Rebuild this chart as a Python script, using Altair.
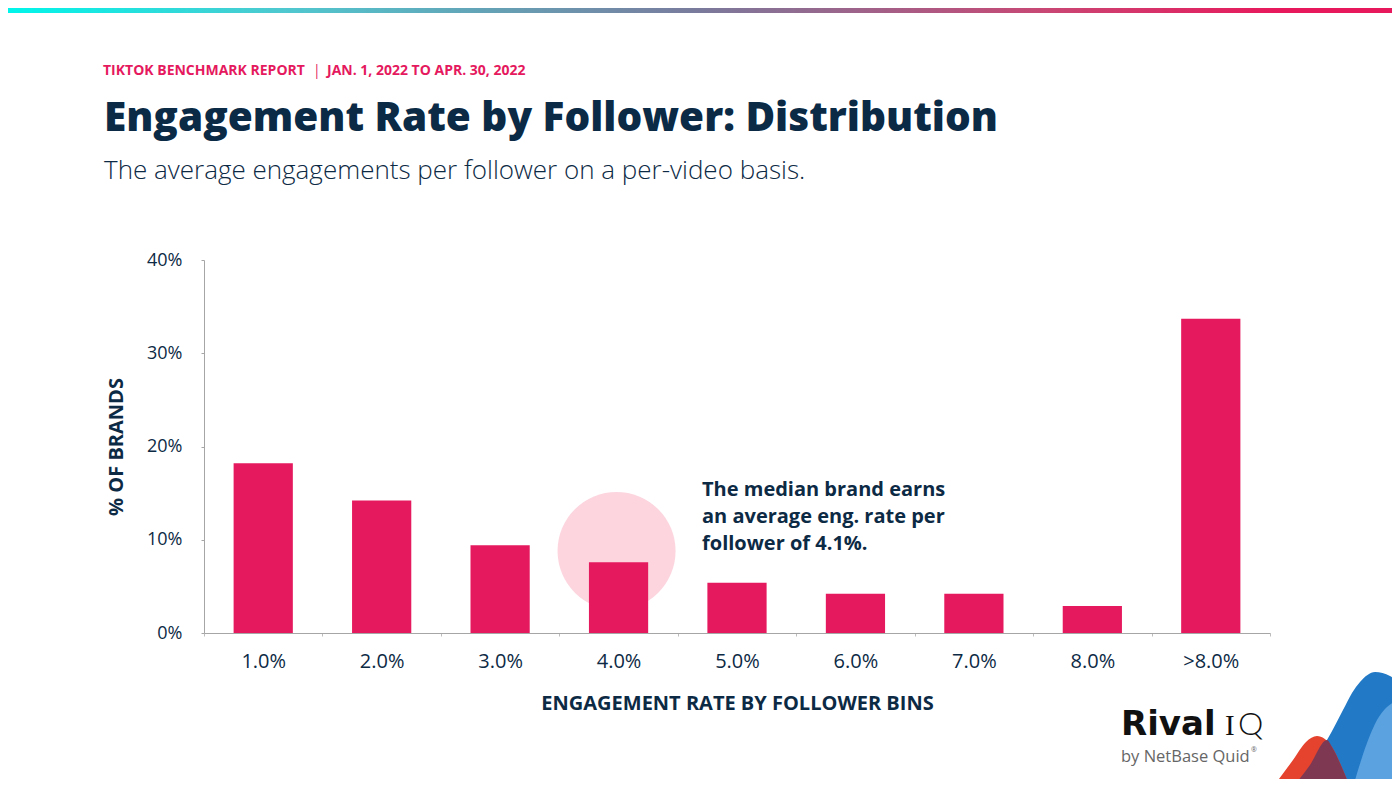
import altair as alt
import pandas as pd

# ---- data ----
bins = ["1.0%", "2.0%", "3.0%", "4.0%", "5.0%", "6.0%", "7.0%", "8.0%", ">8.0%"]
share = [18.2, 14.2, 9.4, 7.6, 5.4, 4.2, 4.2, 2.9, 33.7]

highlight_bin = ["4.0%"]
highlight_val = [8.8]

note_bin = ["5.0%"]
note_val = [16.4]
note_lines = ["The median brand earns", "an average eng. rate per", "follower of 4.1%."]

# logo decoration shapes (page-pixel space of the logo corner)
logo_blue_x = [1293, 1310, 1327, 1343, 1352, 1360, 1375, 1390, 1400]
logo_blue_y = [787, 765, 740, 710, 693, 682, 672, 676, 683]
logo_lblue_x = [1353, 1367, 1377, 1387, 1400]
logo_lblue_y = [787, 743, 720, 707, 700]
logo_red_x = [1273, 1293, 1306, 1317, 1332, 1343, 1350]
logo_red_y = [787, 760, 742, 736, 747, 770, 787]
logo_mar_x = [1293, 1310, 1327, 1332, 1343, 1350]
logo_mar_y = [787, 765, 740, 747, 770, 787]

NAVY = "#0D2A45"
PINK = "#E5195E"
FONT = "Open Sans"

W, H = 1066, 373
PAD_L, PAD_T = 196, 252
ox, oy = 204, 260  # page position of plot origin

bars_df = pd.DataFrame({"bin": bins, "share": share})
hl_df = pd.DataFrame({"bin": highlight_bin, "share": highlight_val})
note_df = pd.DataFrame({"bin": note_bin, "share": note_val})
one = pd.DataFrame({"k": [0]})

xenc = alt.X(
    "bin:N",
    sort=bins,
    scale=alt.Scale(domain=bins, paddingInner=0, paddingOuter=0),
    axis=alt.Axis(
        title="ENGAGEMENT RATE BY FOLLOWER BINS",
        titleFont=FONT, titleFontSize=20, titleFontWeight="bold", titleColor=NAVY,
        titlePadding=22,
        labelFont=FONT, labelFontSize=20, labelColor=NAVY, labelPadding=25,
        labelAngle=0, labelAlign="center",
        domainColor="#A6A6A6", tickColor="#BDBDBD", tickSize=3, tickBand="extent",
        grid=False,
    ),
)
yenc = alt.Y(
    "share:Q",
    scale=alt.Scale(domain=[0, 40]),
    axis=alt.Axis(
        title="% OF BRANDS",
        titleFont=FONT, titleFontSize=20, titleFontWeight="bold", titleColor=NAVY,
        titlePadding=20,
        values=[0, 10, 20, 30, 40],
        labelExpr="datum.value + '%'",
        labelFont=FONT, labelFontSize=18, labelColor=NAVY, labelPadding=19,
        domainColor="#A6A6A6", tickColor="#A6A6A6", tickSize=3,
        grid=False,
    ),
)

circle = alt.Chart(hl_df).mark_point(
    filled=True, shape="circle", size=118 * 118, color="#FCD5DF", opacity=1, xOffset=-2
).encode(x=alt.X("bin:N", sort=bins), y="share:Q")

bars = alt.Chart(bars_df).mark_bar(color=PINK, width=alt.RelativeBandSize(0.5)).encode(x=xenc, y=yenc)

note = alt.Chart(note_df).mark_text(
    text=note_lines, align="left", baseline="top", dx=-35,
    font=FONT, fontSize=20, fontWeight="bold", color=NAVY, lineHeight=27,
).encode(x=alt.X("bin:N", sort=bins), y="share:Q")

main = alt.layer(circle, bars, note)


def txt(s, x, y, size, weight="normal", color=NAVY, align="left", font=FONT):
    return alt.Chart(one).mark_text(
        text=s, align=align, baseline="alphabetic", font=font,
        fontSize=size, fontWeight=weight, color=color,
    ).encode(x=alt.value(x - ox), y=alt.value(y - oy))


header1 = txt("TIKTOK BENCHMARK REPORT", 103, 75, 14, "bold", PINK)
header2 = txt("|", 313, 75, 14, "normal", PINK)
header3 = txt("JAN. 1, 2022 TO APR. 30, 2022", 327, 75, 14, "bold", PINK)
title = txt("Engagement Rate by Follower: Distribution", 104, 131, 40.5, 800, "#0B2A45")
subtitle = txt("The average engagements per follower on a per-video basis.", 104, 179, 26, 300, NAVY)

logo1 = txt("Rival", 1121, 735, 34, "bold", "#111111", font="DejaVu Sans")
logo2 = txt("I", 1225, 735, 29, "normal", "#111111", font="Liberation Serif")
logo3 = txt("Q", 1238, 735, 32, 300, "#111111", font="Lato")
logo4 = txt("by NetBase Quid", 1121, 762, 16.5, "normal", "#666666")
logo5 = txt("®", 1251, 752, 7, "normal", "#666666")

# decoration shapes through their own pixel-space scales
dx_scale = alt.Scale(domain=[1260, 1400], range=[1260 - ox, 1400 - ox])
dy_scale = alt.Scale(domain=[660, 787], range=[660 - oy, 787 - oy])


def shape(xs, ys, color, opacity=1.0):
    df = pd.DataFrame({"px": xs, "py": ys})
    return alt.Chart(df).mark_area(color=color, opacity=opacity, interpolate="monotone").encode(
        x=alt.X("px:Q", scale=dx_scale, axis=None),
        y=alt.Y("py:Q", scale=dy_scale, axis=None),
        y2=alt.datum(787),
    )


deco = alt.layer(
    shape(logo_blue_x, logo_blue_y, "#2279C6"),
    shape(logo_lblue_x, logo_lblue_y, "#5AA2E0"),
    shape(logo_red_x, logo_red_y, "#E5432D"),
    shape(logo_mar_x, logo_mar_y, "#7F3852"),
)

topbar = alt.Chart(one).mark_rect(
    color=alt.Gradient(
        gradient="linear", x1=0, x2=1, y1=0, y2=0,
        stops=[
            alt.GradientStop(color="#00F5EA", offset=0),
            alt.GradientStop(color="#4FC8CF", offset=0.2),
            alt.GradientStop(color="#7A7A9C", offset=0.5),
            alt.GradientStop(color="#C94774", offset=0.75),
            alt.GradientStop(color="#E8185C", offset=0.92),
            alt.GradientStop(color="#E8185C", offset=1),
        ],
    )
).encode(x=alt.value(-PAD_L), x2=alt.value(-PAD_L + 1384), y=alt.value(-PAD_T), y2=alt.value(-PAD_T + 5))

chart = alt.layer(
    topbar, main, deco,
    header1, header2, header3, title, subtitle,
    logo1, logo2, logo3, logo4, logo5,
).resolve_scale(x="independent", y="independent").properties(
    width=W, height=H,
    padding={"left": PAD_L, "top": PAD_T, "right": 1384 - PAD_L - W, "bottom": 771 - PAD_T - H},
    autosize=alt.AutoSizeParams(type="none"),
).configure(background="white").configure_view(stroke=None, strokeWidth=0)

chart.save("out.html", embed_options={"renderer": "svg", "actions": False})
